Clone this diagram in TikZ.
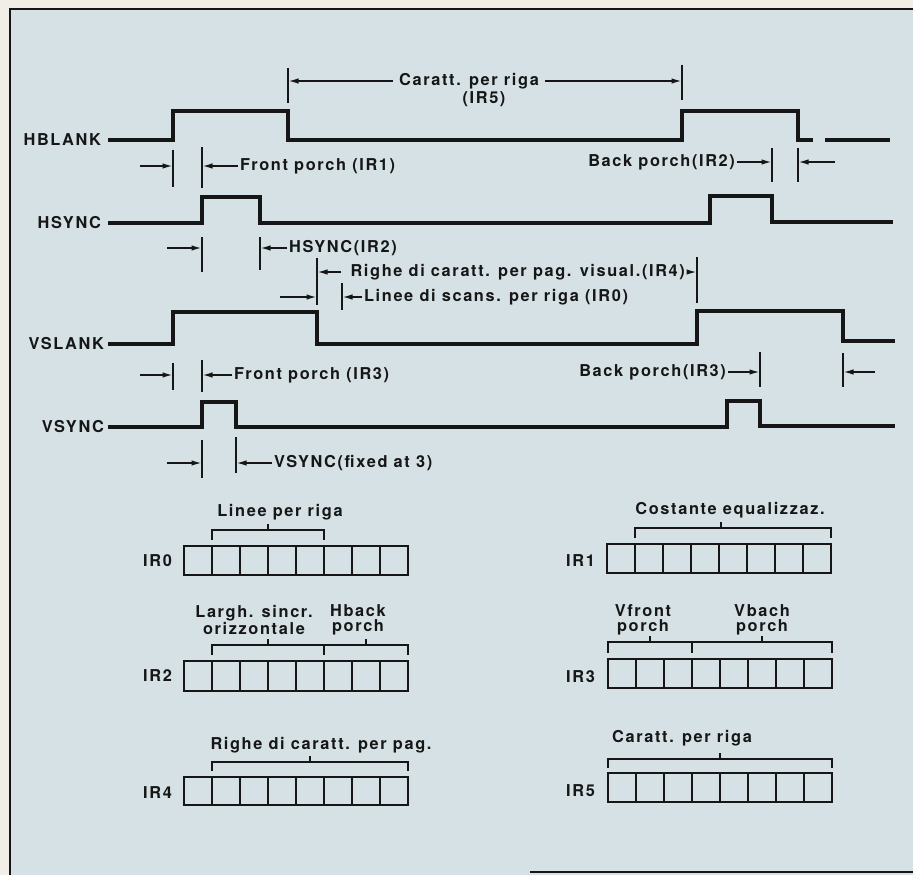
\documentclass[tikz,border=0pt]{standalone}
\usepackage{fontspec}
\setmainfont{TeX Gyre Heros}[LetterSpace=10]
\usetikzlibrary{arrows.meta}
\definecolor{paper}{RGB}{213,225,229}
\definecolor{margin}{RGB}{240,238,230}
\definecolor{ink}{RGB}{22,22,22}
\newcommand{\lblfont}{\fontsize{9.3}{8.6}\selectfont\bfseries}

\begin{document}
\begin{tikzpicture}[x=0.02cm,y=-0.02cm,
  >={Latex[length=2.1mm,width=1.1mm]},
  frame/.style={line width=1.2pt,draw=ink},
  wave/.style={line width=1.8pt,draw=ink},
  dim/.style={line width=1pt,draw=ink},
  cell/.style={line width=1.3pt,draw=ink},
  lbl/.style={font=\lblfont,text=ink,inner sep=1pt,align=center}]
\useasboundingbox (0,0) rectangle (913,875);
\fill[margin] (0,0) rectangle (913,875);
\fill[paper] (10,9) rectangle (913,875);
\draw[frame] (913,9) -- (10,9) -- (10,875);
\draw[frame] (530,872) -- (913,872);

% signals
\node[lbl,anchor=east] (hblank) at (103,140) {HBLANK};
\draw[wave] (108,140) -- (173,140) -- (173,111) -- (288,111) -- (288,140) -- (682,140) -- (682,111) -- (798,111) -- (798,140) -- (813,140);
\draw[wave] (825,140) -- (890,140);

\node[lbl,anchor=east] (hsync) at (103,223) {HSYNC};
\draw[wave] (108,223) -- (202,223) -- (202,197) -- (260,197) -- (260,223) -- (710,223) -- (710,196) -- (772,196) -- (772,222) -- (893,222);

\node[lbl,anchor=east] (vslank) at (106,344) {VSLANK};
\draw[wave] (108,344) -- (173,344) -- (173,312) -- (317,312) -- (317,344) -- (697,344) -- (697,311) -- (843,311) -- (843,341) -- (895,341);

\node[lbl,anchor=east] (vsync) at (106,427) {VSYNC};
\draw[wave] (108,427) -- (202,427) -- (202,402) -- (236,402) -- (236,427) -- (727,427) -- (727,401) -- (760,401) -- (760,426) -- (895,426);

% timing marks
\node[lbl,inner sep=3.5pt] (cpr) at (469,81) {Caratt. per riga};
\node[lbl] (irfive) at (484,99) {(IR5)};
\draw[dim] (288,68) -- (288,103);
\draw[dim] (682,65) -- (682,100);
\draw[dim,->] (cpr.west) -- (288,81);
\draw[dim,->] (cpr.east) -- (682,81);

\draw[dim] (173,150) -- (173,187);
\draw[dim] (202,147) -- (202,188);
\draw[dim,->] (140,166) -- (173,166);
\node[lbl,anchor=west] (fpone) at (238,166) {Front porch (IR1)};
\draw[dim,->] (fpone.west) -- (202,166);

\node[lbl,anchor=east] (bptwo) at (737,162) {Back porch(IR2)};
\draw[dim,->] (bptwo.east) -- (772,162);
\draw[dim] (772,148) -- (772,182);
\draw[dim] (798,148) -- (798,182);
\draw[dim,->] (835,162) -- (798,162);

\draw[dim,->] (167,248) -- (202,248);
\draw[dim] (202,237) -- (202,272);
\draw[dim] (260,237) -- (260,270);
\node[lbl,anchor=west] (hstwo) at (287,248) {HSYNC(IR2)};
\draw[dim,->] (hstwo.west) -- (260,248);

\draw[dim] (317,258) -- (317,305);
\draw[dim,->] (280,297) -- (317,297);
\node[lbl,anchor=east] (rcfour) at (687,272) {Righe di caratt. per pag. visual.(IR4)};
\draw[dim,->,shorten <=4pt] (rcfour.west) -- (317,272);
\draw[dim,->] (rcfour.east) -- (697,272);
\draw[dim] (697,257) -- (697,303);
\draw[dim] (342,283) -- (342,310);
\node[lbl,anchor=west] (lszero) at (362,297) {Linee di scans. per riga (IR0)};
\draw[dim,->] (lszero.west) -- (342,297);

\draw[dim,->] (140,375) -- (173,375);
\draw[dim] (173,363) -- (173,390);
\draw[dim] (202,360) -- (202,392);
\node[lbl,anchor=west] (fpthree) at (232,375) {Front porch (IR3)};
\draw[dim,->] (fpthree.west) -- (202,375);

\node[lbl,anchor=east] (bpthree) at (728,372) {Back porch(IR3)};
\draw[dim,->] (bpthree.east) -- (760,372);
\draw[dim] (760,352) -- (760,387);
\draw[dim] (843,353) -- (843,387);
\draw[dim,->] (875,372) -- (843,372);

\draw[dim,->] (167,463) -- (202,463);
\draw[dim] (202,440) -- (202,478);
\draw[dim] (236,437) -- (236,473);
\node[lbl,anchor=west] (vsfix) at (272,463) {VSYNC(fixed at 3)};
\draw[dim,->] (vsfix.west) -- (236,463);

% registers
\begin{scope}[shift={(184,546)}]
\node[lbl,anchor=east] (irzero) at (-10,15) {IR0};
\draw[cell] (0,0) rectangle (224,29);
\foreach \i in {1,...,7} \draw[cell] (28*\i,0) -- (28*\i,29);
\draw[dim] (28,-6) -- (28,-16) -- (140,-16) -- (140,-6);
\draw[dim] (84,-16) -- (84,-22);
\node[lbl] (lpr) at (96,-34) {Linee per riga};
\end{scope}

\begin{scope}[shift={(607,544)}]
\node[lbl,anchor=east] (irone) at (-10,17) {IR1};
\draw[cell] (0,0) rectangle (224,29);
\foreach \i in {1,...,7} \draw[cell] (28*\i,0) -- (28*\i,29);
\draw[dim] (28,-6) -- (28,-16) -- (224,-16) -- (224,-6);
\draw[dim] (114,-16) -- (114,-22);
\node[lbl] (ceq) at (123,-34) {Costante equalizzaz.};
\end{scope}

\begin{scope}[shift={(184,661)}]
\node[lbl,anchor=east] (irtwo) at (-10,15) {IR2};
\draw[cell] (0,0) rectangle (224,30);
\foreach \i in {1,...,7} \draw[cell] (28*\i,0) -- (28*\i,30);
\draw[dim] (28,-6) -- (28,-16) -- (224,-16) -- (224,-6);
\draw[dim] (140,-16) -- (140,-6);
\draw[dim] (84,-16) -- (84,-22);
\draw[dim] (182,-16) -- (182,-22);
\node[lbl] (lso) at (70,-41) {Largh. sincr.\\orizzontale};
\node[lbl] (hbp) at (174,-41) {Hback\\porch};
\end{scope}

\begin{scope}[shift={(608,659)}]
\node[lbl,anchor=east] (irthree) at (-11,18) {IR3};
\draw[cell] (0,0) rectangle (224,29);
\foreach \i in {1,...,7} \draw[cell] (28*\i,0) -- (28*\i,29);
\draw[dim] (0,-6) -- (0,-17) -- (224,-17) -- (224,-6);
\draw[dim] (84,-17) -- (84,-6);
\draw[dim] (42,-17) -- (42,-23);
\draw[dim] (154,-17) -- (154,-23);
\node[lbl] (vfp) at (35,-39) {Vfront\\porch};
\node[lbl] (vbp) at (154,-39) {Vbach\\porch};
\end{scope}

\begin{scope}[shift={(184,777)}]
\node[lbl,anchor=east] (irfour) at (-10,16) {IR4};
\draw[cell] (0,0) rectangle (224,28);
\foreach \i in {1,...,7} \draw[cell] (28*\i,0) -- (28*\i,28);
\draw[dim] (28,-6) -- (28,-15) -- (224,-15) -- (224,-6);
\draw[dim] (126,-15) -- (126,-21);
\node[lbl] (rcp) at (137,-32) {Righe di caratt. per pag.};
\end{scope}

\begin{scope}[shift={(608,773)}]
\node[lbl,anchor=east] (irfiveb) at (-11,18) {IR5};
\draw[cell] (0,0) rectangle (224,29);
\foreach \i in {1,...,7} \draw[cell] (28*\i,0) -- (28*\i,29);
\draw[dim] (0,-5) -- (0,-14) -- (224,-14) -- (224,-5);
\draw[dim] (112,-14) -- (112,-20);
\node[lbl] (cprb) at (74,-35) {Caratt. per riga};
\end{scope}
\end{tikzpicture}
\end{document}
